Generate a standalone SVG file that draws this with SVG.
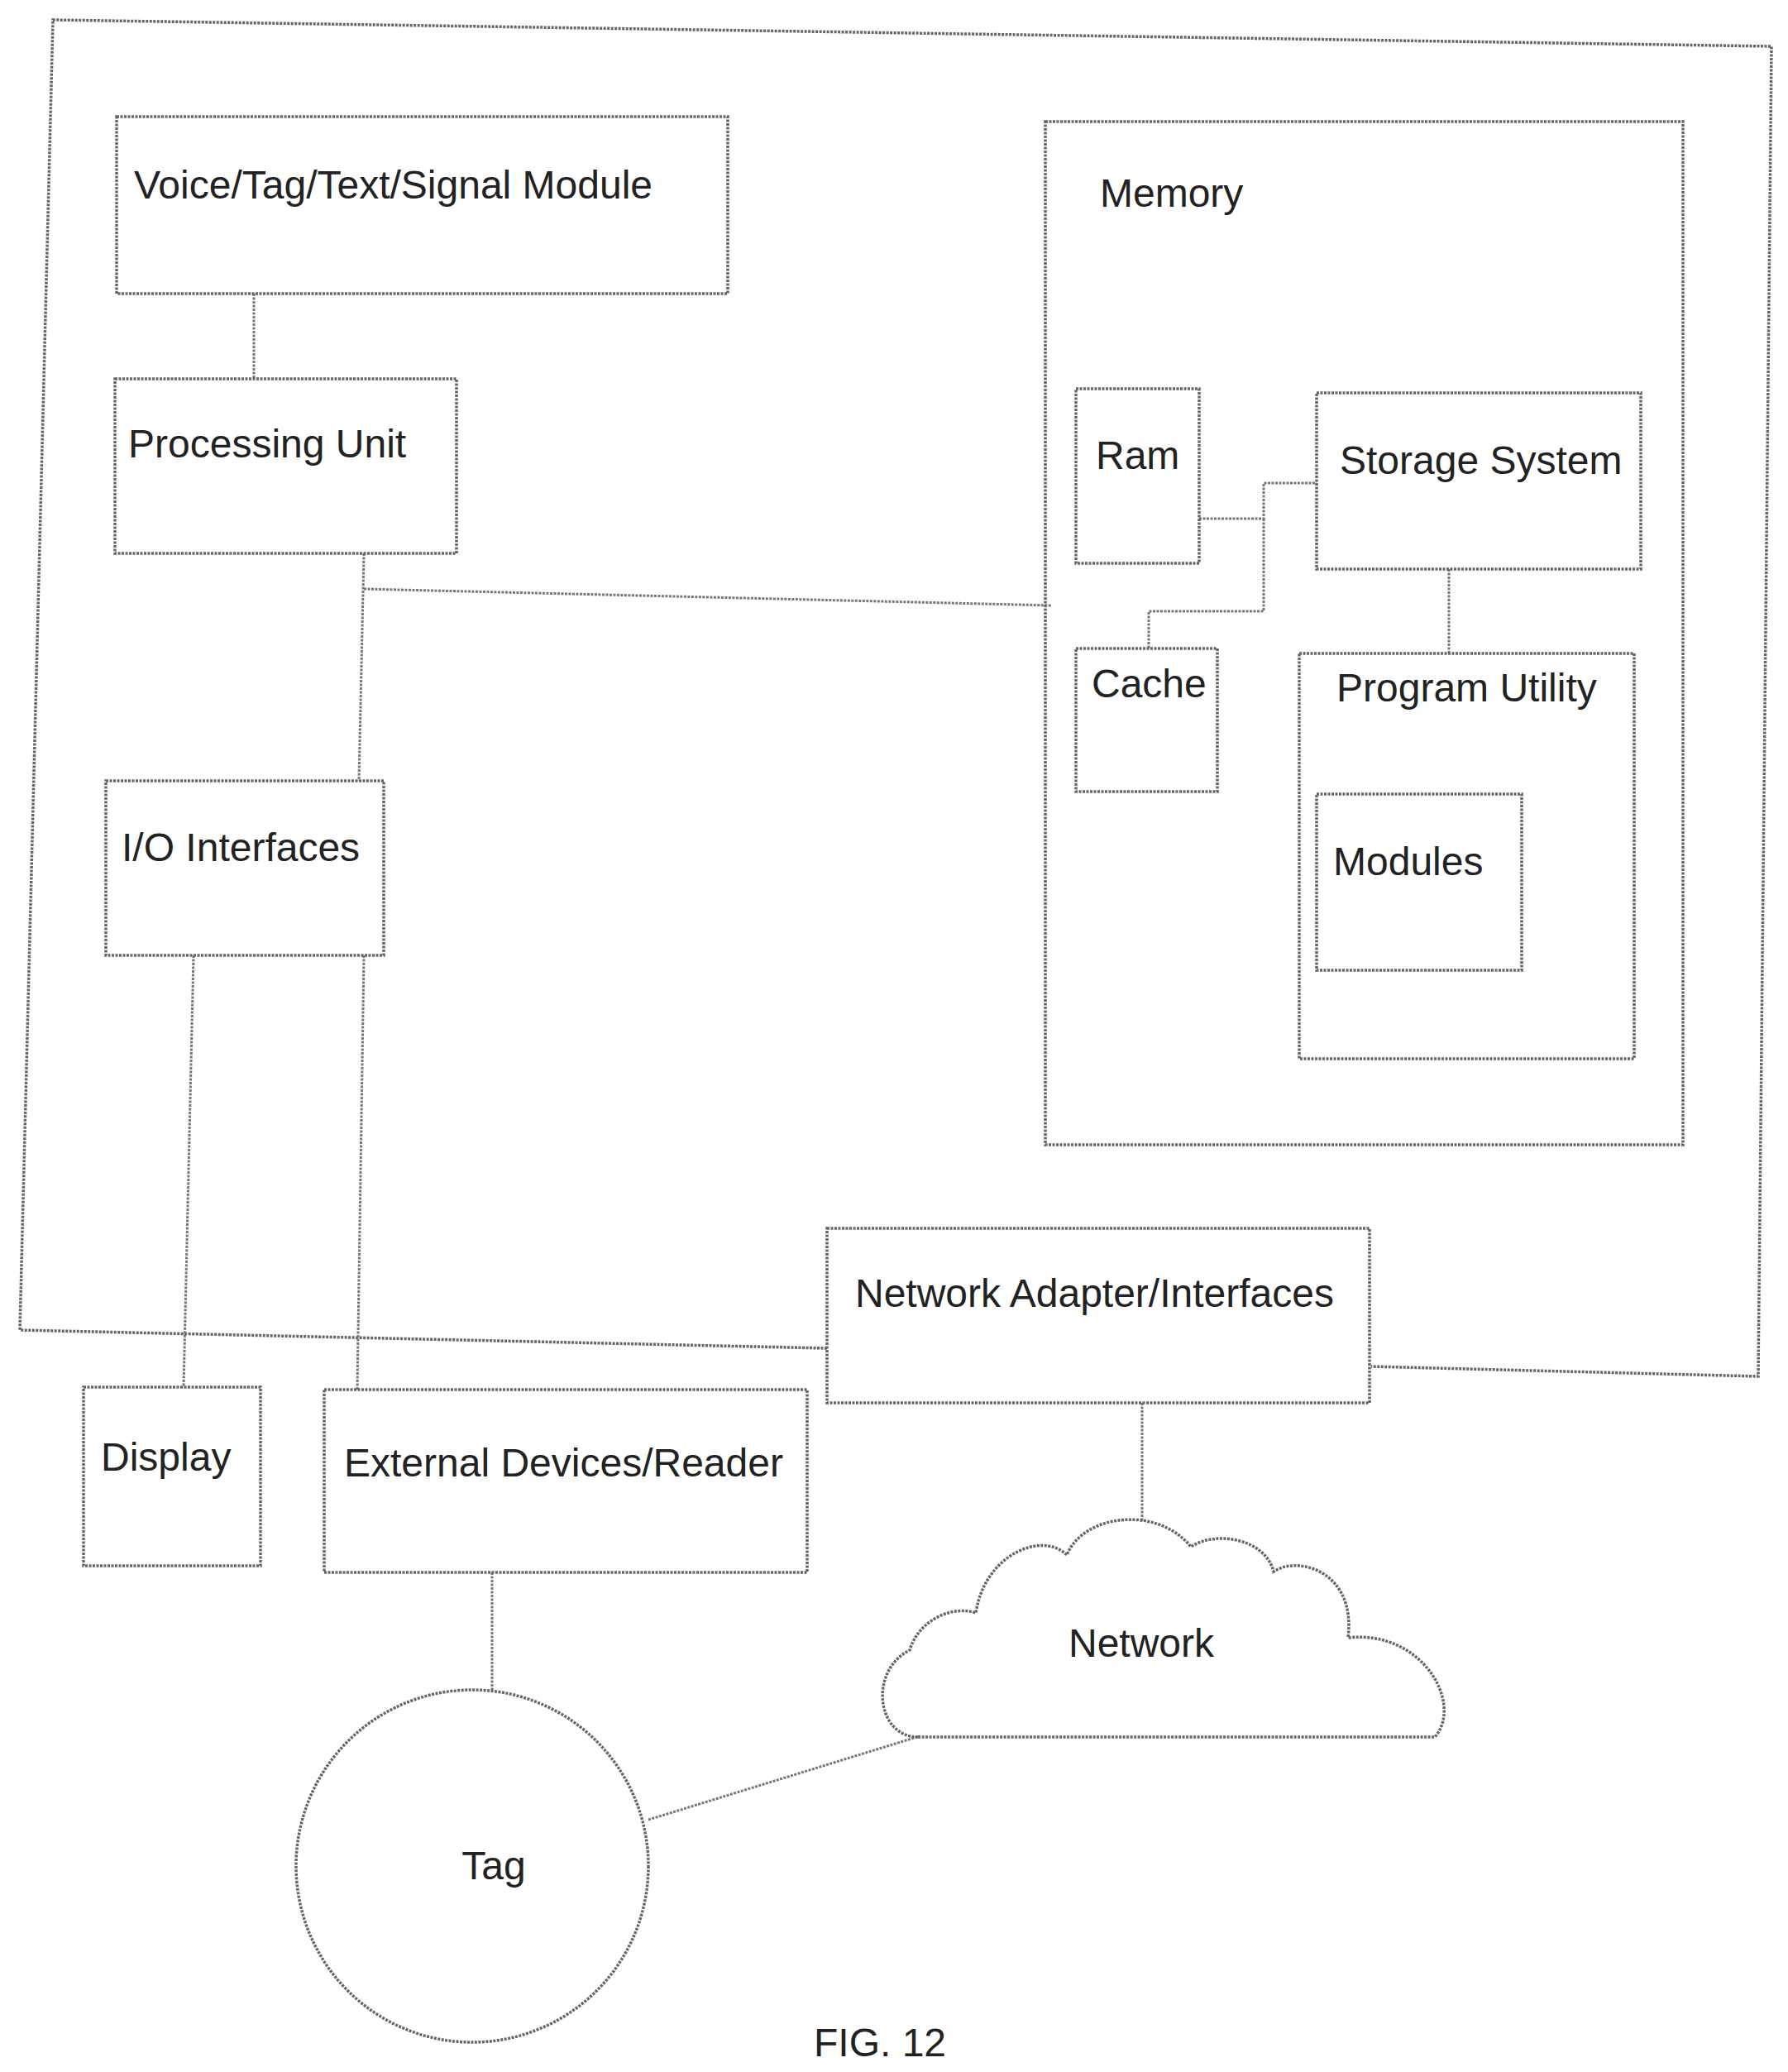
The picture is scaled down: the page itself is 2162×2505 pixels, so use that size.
<svg xmlns="http://www.w3.org/2000/svg" width="2162" height="2505" viewBox="0 0 2162 2505">
<style>
.b{fill:none;stroke:#666;stroke-width:3.5;stroke-dasharray:3 1.5}
.c{fill:none;stroke:#777;stroke-width:3;stroke-dasharray:3 1.5}
text{font-family:"Liberation Sans",Arial,sans-serif;font-size:48px;fill:#222}
</style>
<rect width="2162" height="2505" fill="#fff"/>
<g id="outer"><path class="b" d="M1000,1630 L24,1608 L64,24 L2142,56 L2126,1664 L1658,1652"/></g>
<g id="connectors">
<path class="c" d="M307,355V458"/>
<path class="c" d="M440,669L434,944"/>
<path class="c" d="M440,712L1272,732"/>
<path class="c" d="M1450,627H1528V584H1592"/>
<path class="c" d="M1528,627V739H1389V784"/>
<path class="c" d="M1752,688V790"/>
<path class="c" d="M234,1155L222,1677"/>
<path class="c" d="M440,1155L432,1680"/>
<path class="c" d="M1381,1696V1840"/>
<path class="c" d="M595,1901V2043"/>
<path class="c" d="M784,2200L1112,2099"/>
</g>
<g id="voice"><rect class="b" x="141" y="141" width="739" height="214"/><text x="162" y="240">Voice/Tag/Text/Signal Module</text></g>
<g id="proc"><rect class="b" x="139" y="458" width="413" height="211"/><text x="155" y="553">Processing Unit</text></g>
<g id="io"><rect class="b" x="128" y="944" width="336" height="211"/><text x="147" y="1041">I/O Interfaces</text></g>
<g id="memory"><rect class="b" x="1264" y="147" width="771" height="1237"/><text x="1330" y="250">Memory</text></g>
<g id="ram"><rect class="b" x="1301" y="470" width="149" height="211"/><text x="1325" y="567">Ram</text></g>
<g id="storage"><rect class="b" x="1592" y="475" width="392" height="213"/><text x="1620" y="573">Storage System</text></g>
<g id="cache"><rect class="b" x="1301" y="784" width="171" height="173"/><text x="1320" y="843">Cache</text></g>
<g id="program"><rect class="b" x="1571" y="790" width="405" height="490"/><text x="1616" y="848">Program Utility</text></g>
<g id="modules"><rect class="b" x="1592" y="960" width="248" height="213"/><text x="1612" y="1058">Modules</text></g>
<g id="adapter"><rect class="b" x="1000" y="1485" width="656" height="211"/><text x="1034" y="1580">Network Adapter/Interfaces</text></g>
<g id="display"><rect class="b" x="101" y="1677" width="214" height="216"/><text x="122" y="1778">Display</text></g>
<g id="external"><rect class="b" x="392" y="1680" width="584" height="221"/><text x="416" y="1785">External Devices/Reader</text></g>
<g id="network"><path class="b" d="M1110,2100 C1060,2100 1050,2020 1100,1995 C1110,1960 1150,1940 1180,1950 C1190,1880 1260,1850 1290,1880 C1310,1830 1400,1820 1440,1870 C1470,1850 1530,1860 1540,1900 C1570,1880 1640,1900 1630,1980 C1720,1970 1770,2060 1735,2100 Z"/><text x="1380" y="2003" text-anchor="middle">Network</text></g>
<g id="tag"><circle class="b" cx="571" cy="2256" r="213"/><text x="597" y="2272" text-anchor="middle">Tag</text></g>
<text x="1064" y="2486" text-anchor="middle">FIG. 12</text>
</svg>
